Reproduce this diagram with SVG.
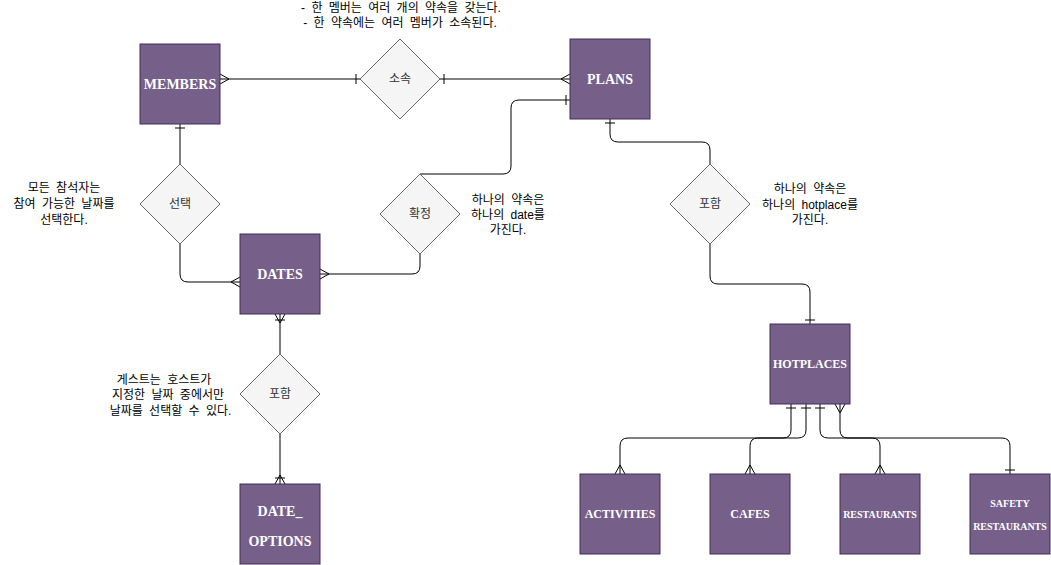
<svg xmlns="http://www.w3.org/2000/svg" width="1051" height="565" viewBox="0 0 1051 565">
<style>
.ent{fill:#76608a;stroke:#432d57;stroke-width:1}
.rel{fill:#f5f5f5;stroke:#666666;stroke-width:1}
.et{font-family:'Liberation Serif','Times New Roman',serif;font-weight:bold;fill:#ffffff;text-anchor:middle;dominant-baseline:central}
.rt{font-family:'Liberation Sans','Noto Sans CJK KR',sans-serif;font-size:12px;fill:#333333;text-anchor:middle;dominant-baseline:central}
.note{font-family:'Liberation Sans','Noto Sans CJK KR',sans-serif;font-size:12px;fill:#000000;text-anchor:middle;dominant-baseline:central;word-spacing:3px}
.cn{fill:none;stroke:#000000;stroke-width:1}
</style>
<defs>
<marker id="many" markerUnits="userSpaceOnUse" markerWidth="20" markerHeight="20" refX="0" refY="0" orient="auto" overflow="visible"><path d="M0,-5 L-9,0 L0,5" fill="none" stroke="#000" stroke-width="1"/></marker>
<marker id="manyS" markerUnits="userSpaceOnUse" markerWidth="20" markerHeight="20" refX="0" refY="0" orient="auto-start-reverse" overflow="visible"><path d="M0,-5 L-9,0 L0,5" fill="none" stroke="#000" stroke-width="1"/></marker>
<marker id="one" markerUnits="userSpaceOnUse" markerWidth="20" markerHeight="20" refX="0" refY="0" orient="auto" overflow="visible"><path d="M-4,-5 L-4,5" fill="none" stroke="#000" stroke-width="1"/></marker>
<marker id="oneS" markerUnits="userSpaceOnUse" markerWidth="20" markerHeight="20" refX="0" refY="0" orient="auto-start-reverse" overflow="visible"><path d="M-4,-5 L-4,5" fill="none" stroke="#000" stroke-width="1"/></marker>
<marker id="oneMany" markerUnits="userSpaceOnUse" markerWidth="20" markerHeight="20" refX="0" refY="0" orient="auto" overflow="visible"><path d="M0,-5 L-9,0 L0,5 M-6,-5 L-6,5" fill="none" stroke="#000" stroke-width="1"/></marker>
<marker id="oneManyS" markerUnits="userSpaceOnUse" markerWidth="20" markerHeight="20" refX="0" refY="0" orient="auto-start-reverse" overflow="visible"><path d="M0,-5 L-9,0 L0,5 M-6,-5 L-6,5" fill="none" stroke="#000" stroke-width="1"/></marker>
</defs>
<rect width="1051" height="565" fill="#ffffff"/>
<g id="connectors">
<path class="cn" d="M220,79 L360,79" marker-start="url(#manyS)" marker-end="url(#one)"/>
<path class="cn" d="M440,79 L570,79" marker-start="url(#oneS)" marker-end="url(#many)"/>
<path class="cn" d="M570,100 L519,100 Q511,100 511,108 L511,166 Q511,174 503,174 L420,174" marker-start="url(#oneS)"/>
<path class="cn" d="M420,254 L420,266 Q420,274 412,274 L320,274" marker-end="url(#many)"/>
<path class="cn" d="M180,124 L180,164" marker-start="url(#oneS)"/>
<path class="cn" d="M180,244 L180,274 Q180,282 188,282 L240,282" marker-end="url(#many)"/>
<path class="cn" d="M280,314 L280,354" marker-start="url(#oneManyS)"/>
<path class="cn" d="M280,434 L280,484" marker-end="url(#oneMany)"/>
<path class="cn" d="M610,119 L610,134 Q610,142 618,142 L702,142 Q710,142 710,150 L710,164" marker-start="url(#oneS)"/>
<path class="cn" d="M710,244 L710,276 Q710,284 718,284 L802,284 Q810,284 810,292 L810,324" marker-end="url(#one)"/>
<path class="cn" d="M791,404 L791,430 Q791,438 783,438 L628,438 Q620,438 620,446 L620,474" marker-start="url(#oneS)" marker-end="url(#many)"/>
<path class="cn" d="M806,404 L806,430 Q806,438 798,438 L758,438 Q750,438 750,446 L750,474" marker-start="url(#oneS)" marker-end="url(#many)"/>
<path class="cn" d="M820,404 L820,430 Q820,438 828,438 L872,438 Q880,438 880,446 L880,474" marker-start="url(#oneS)" marker-end="url(#many)"/>
<path class="cn" d="M840,404 L840,430 Q840,438 848,438 L1002,438 Q1010,438 1010,446 L1010,474" marker-start="url(#manyS)" marker-end="url(#one)"/>
</g>
<g id="members"><rect class="ent" x="140" y="44" width="80" height="80"/><text class="et" x="180" y="84" font-size="14">MEMBERS</text></g>
<g id="plans"><rect class="ent" x="570" y="39" width="80" height="80"/><text class="et" x="610" y="79" font-size="14">PLANS</text></g>
<g id="dates"><rect class="ent" x="240" y="234" width="80" height="80"/><text class="et" x="280" y="274" font-size="14">DATES</text></g>
<g id="date_options"><rect class="ent" x="240" y="484" width="80" height="80"/><text class="et" x="280" y="511" font-size="14">DATE_</text><text class="et" x="280" y="541" font-size="14">OPTIONS</text></g>
<g id="hotplaces"><rect class="ent" x="770" y="324" width="80" height="80"/><text class="et" x="810" y="364" font-size="12">HOTPLACES</text></g>
<g id="activities"><rect class="ent" x="580" y="474" width="80" height="80"/><text class="et" x="620" y="514" font-size="12">ACTIVITIES</text></g>
<g id="cafes"><rect class="ent" x="710" y="474" width="80" height="80"/><text class="et" x="750" y="514" font-size="12">CAFES</text></g>
<g id="restaurants"><rect class="ent" x="840" y="474" width="80" height="80"/><text class="et" x="880" y="514" font-size="10">RESTAURANTS</text></g>
<g id="safety_restaurants"><rect class="ent" x="970" y="474" width="80" height="80"/><text class="et" x="1010" y="503" font-size="10">SAFETY</text><text class="et" x="1010" y="526" font-size="10">RESTAURANTS</text></g>
<g id="rel_sosok"><path class="rel" d="M400,39 L440,79 L400,119 L360,79 Z"/><text class="rt" x="400" y="79">소속</text></g>
<g id="rel_seontaek"><path class="rel" d="M180,164 L220,204 L180,244 L140,204 Z"/><text class="rt" x="180" y="204">선택</text></g>
<g id="rel_hwakjeong"><path class="rel" d="M420,174 L460,214 L420,254 L380,214 Z"/><text class="rt" x="420" y="214">확정</text></g>
<g id="rel_poham_plans"><path class="rel" d="M710,164 L750,204 L710,244 L670,204 Z"/><text class="rt" x="710" y="204">포함</text></g>
<g id="rel_poham_dates"><path class="rel" d="M280,354 L320,394 L280,434 L240,394 Z"/><text class="rt" x="280" y="394">포함</text></g>
<g id="notes">
<text class="note" x="401" y="7.5">- 한 멤버는 여러 개의 약속을 갖는다.</text>
<text class="note" x="400" y="23">- 한 약속에는 여러 멤버가 소속된다.</text>
<text class="note" x="64" y="188">모든 참석자는</text>
<text class="note" x="64" y="204">참여 가능한 날짜를</text>
<text class="note" x="64" y="220">선택한다.</text>
<text class="note" x="508" y="200">하나의 약속은</text>
<text class="note" x="508" y="215">하나의 date를</text>
<text class="note" x="508" y="230">가진다.</text>
<text class="note" x="810" y="189">하나의 약속은</text>
<text class="note" x="810" y="204.5">하나의 hotplace를</text>
<text class="note" x="810" y="220">가진다.</text>
<text class="note" x="164" y="379.5">게스트는 호스트가</text>
<text class="note" x="168" y="395">지정한 날짜 중에서만</text>
<text class="note" x="170.5" y="410.5">날짜를 선택할 수 있다.</text>
</g>
</svg>
